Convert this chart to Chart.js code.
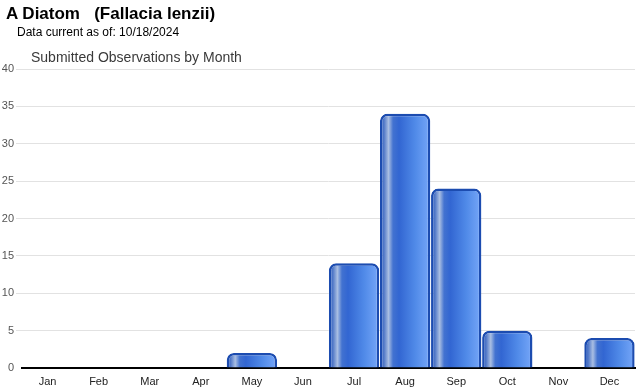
<!DOCTYPE html>
<html lang="en">
<head>
    <meta charset="UTF-8">
    <title>A Diatom (Fallacia lenzii)</title>
    <script src="https://cdn.jsdelivr.net/npm/chart.js"></script>
    <style>
        body { margin: 0; width: 640px; height: 390px; position: relative; background: #fff; font-family: "Liberation Sans", Arial, sans-serif; overflow: hidden; }
        #head { position: absolute; left: 6px; top: 4px; font-size: 17px; font-weight: bold; white-space: pre; color: #000; }
        #sub { position: absolute; left: 17px; top: 25px; font-size: 12px; color: #000; }
        #ctitle { position: absolute; left: 31px; top: 49px; font-size: 14px; color: #3a3a3a; }
        #chart { position: absolute; left: 0; top: 0; }
    </style>
</head>
<body>
    <canvas id="chart" width="640" height="390"></canvas>
    <div id="head">A Diatom   (Fallacia lenzii)</div>
    <div id="sub">Data current as of: 10/18/2024</div>
    <div id="ctitle">Submitted Observations by Month</div>
    <script>
        const months = ['Jan', 'Feb', 'Mar', 'Apr', 'May', 'Jun', 'Jul', 'Aug', 'Sep', 'Oct', 'Nov', 'Dec'];
        const observations = [0, 0, 0, 0, 2, 0, 14, 34, 24, 5, 0, 4];
        const yTicks = [0, 5, 10, 15, 20, 25, 30, 35, 40];

        const barPct = 0.985;

        // horizontal shaded "tube" look for each bar
        function barFill(c) {
            const chart = c.chart;
            if (!chart.chartArea) return '#3b6fd8';
            const xs = chart.scales.x;
            const w = xs.width / months.length * barPct;
            const cx = xs.getPixelForValue(c.dataIndex);
            const g = chart.ctx.createLinearGradient(cx - w / 2, 0, cx + w / 2, 0);
            g.addColorStop(0, '#2a5ac0');
            g.addColorStop(0.08, '#5279c8');
            g.addColorStop(0.17, '#a9bee2');
            g.addColorStop(0.26, '#4272d0');
            g.addColorStop(0.38, '#3266d2');
            g.addColorStop(0.7, '#508ae8');
            g.addColorStop(0.95, '#70a2f6');
            g.addColorStop(1, '#5e90ec');
            return g;
        }

        new Chart(document.getElementById('chart'), {
            type: 'bar',
            data: {
                labels: months,
                datasets: [{
                    data: observations,
                    backgroundColor: barFill,
                    borderColor: '#1c4cb0',
                    borderWidth: 2.5,
                    borderRadius: 7,
                    borderSkipped: 'bottom',
                    categoryPercentage: 1,
                    barPercentage: barPct
                }]
            },
            options: {
                responsive: false,
                animation: false,
                layout: { padding: { top: 69, right: 5, left: 0, bottom: 0 } },
                plugins: { legend: { display: false }, tooltip: { enabled: false } },
                scales: {
                    x: {
                        afterFit: s => { s.height = 22; },
                        grid: { display: false, drawTicks: false },
                        border: { color: '#000', width: 2 },
                        ticks: { color: '#222', font: { size: 11, family: 'Liberation Sans' }, padding: 7 }
                    },
                    y: {
                        min: 0,
                        max: 40,
                        afterBuildTicks: s => { s.ticks = yTicks.map(v => ({ value: v })); },
                        afterFit: s => { s.width = 22; },
                        border: { display: false },
                        grid: {
                            color: c => c.tick && c.tick.value === 0 ? 'rgba(0,0,0,0)' : '#e2e2e2',
                            tickLength: 6
                        },
                        ticks: { color: '#555', font: { size: 11, family: 'Liberation Sans' }, padding: 2 }
                    }
                }
            }
        });
    </script>
</body>
</html>
